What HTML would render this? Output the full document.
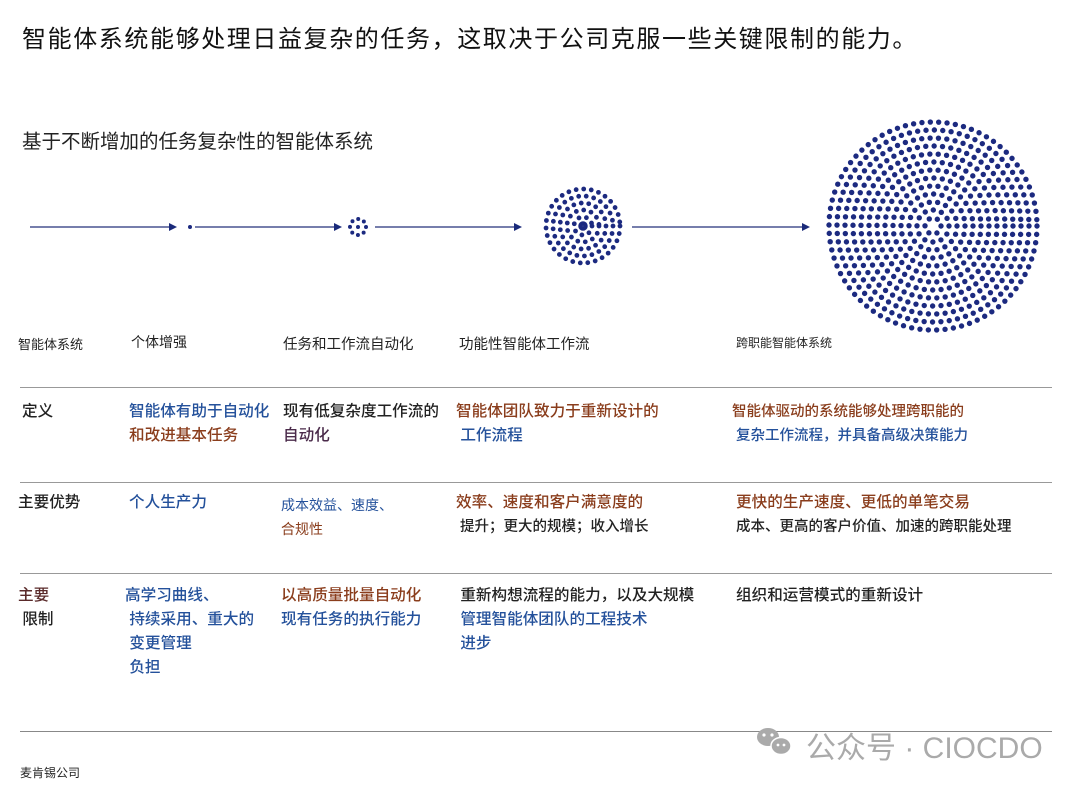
<!DOCTYPE html>
<html><head><meta charset="utf-8"><style>
body{margin:0;width:1080px;height:788px;background:#fff;position:relative;overflow:hidden;font-family:"Liberation Sans","Noto Sans CJK SC",sans-serif;color:#222}
.t{position:absolute;white-space:nowrap}
.b{color:#24519b}.r{color:#8a3d1c}.k{color:#222}
.hr{position:absolute;left:20px;width:1032px;height:1px;background:#999}
.c{font-size:15.6px;line-height:24px;font-weight:500}
</style></head><body>
<div class="t" style="left:22px;top:19px;font-size:24px;color:#111;letter-spacing:1.6px">智能体系统能够处理日益复杂的任务，这取决于公司克服一些关键限制的能力。</div>
<div class="t" style="left:22px;top:125px;font-size:19.5px;color:#222">基于不断增加的任务复杂性的智能体系统</div>
<svg style="position:absolute;left:0;top:0" width="1080" height="340">
<g stroke="#25307a" stroke-width="1.3" fill="#1a2a7a">
<line x1="30" y1="227" x2="170" y2="227"/><polygon points="169,223 177,227 169,231" stroke="none"/>
<line x1="195" y1="227" x2="335" y2="227"/><polygon points="334,223 342,227 334,231" stroke="none"/>
<line x1="375" y1="227" x2="515" y2="227"/><polygon points="514,223 522,227 514,231" stroke="none"/>
<line x1="632" y1="227" x2="803" y2="227"/><polygon points="802,223 810,227 802,231" stroke="none"/>
</g>
<g fill="#1c2a80"><circle cx="190" cy="227" r="2"/><circle cx="358" cy="227" r="2"/></g>
<g fill="none" stroke="#1c2a80" stroke-linecap="round">
<circle cx="358" cy="227" r="8" stroke-width="4" stroke-dasharray="0 6.28"/>
</g>
<g fill="none" stroke="#1c2a80" stroke-linecap="round" stroke-width="4.8">
<circle cx="583" cy="226" r="2.5" stroke-width="4.5"/>
<circle cx="583" cy="226" r="9" stroke-dasharray="0 7.6"/>
<circle cx="583" cy="226" r="16" stroke-dasharray="0 7.6"/>
<circle cx="583" cy="226" r="23" stroke-dasharray="0 7.6"/>
<circle cx="583" cy="226" r="30" stroke-dasharray="0 7.6"/>
<circle cx="583" cy="226" r="37" stroke-dasharray="0 7.6"/>
</g>
<g fill="none" stroke="#1c2a80" stroke-linecap="round" stroke-width="5.4">
<circle cx="933" cy="226" r="8" stroke-dasharray="0 8.4"/>
<circle cx="933" cy="226" r="16" stroke-dasharray="0 8.4"/>
<circle cx="933" cy="226" r="24" stroke-dasharray="0 8.4"/>
<circle cx="933" cy="226" r="32" stroke-dasharray="0 8.4"/>
<circle cx="933" cy="226" r="40" stroke-dasharray="0 8.4"/>
<circle cx="933" cy="226" r="48" stroke-dasharray="0 8.4"/>
<circle cx="933" cy="226" r="56" stroke-dasharray="0 8.4"/>
<circle cx="933" cy="226" r="64" stroke-dasharray="0 8.4"/>
<circle cx="933" cy="226" r="72" stroke-dasharray="0 8.4"/>
<circle cx="933" cy="226" r="80" stroke-dasharray="0 8.4"/>
<circle cx="933" cy="226" r="88" stroke-dasharray="0 8.4"/>
<circle cx="933" cy="226" r="96" stroke-dasharray="0 8.4"/>
<circle cx="933" cy="226" r="104" stroke-dasharray="0 8.4"/>
</g>
</svg>
<div class="t" style="left:18px;top:334px;font-size:13px">智能体系统</div>
<div class="t" style="left:131px;top:332px;font-size:14px">个体增强</div>
<div class="t" style="left:283px;top:333px;font-size:14.5px">任务和工作流自动化</div>
<div class="t" style="left:459px;top:333px;font-size:14.5px">功能性智能体工作流</div>
<div class="t" style="left:736px;top:334px;font-size:12px">跨职能智能体系统</div>
<div class="hr" style="top:387px"></div>
<div class="hr" style="top:482px"></div>
<div class="hr" style="top:573px"></div>
<div class="hr" style="top:731px;background:#888"></div>
<div class="t c" style="left:22px;top:400px">定义</div>
<div class="t c" style="left:129px;top:400px"><span class="b">智能体有助于自动化</span><br><span class="r">和改进基本任务</span></div>
<div class="t c" style="left:283px;top:400px"><span class="k">现有低复杂度工作流的</span><br><span style="color:#4a2a4a">自动化</span></div>
<div class="t c" style="left:456px;top:400px"><span class="r">智能体团队致力于重新设计的</span><br><span class="b">&nbsp;工作流程</span></div>
<div class="t" style="left:732px;top:400px;font-size:14.5px;line-height:24px;font-weight:500"><span class="r">智能体驱动的系统能够处理跨职能的</span><br><span class="b">&nbsp;复杂工作流程，并具备高级决策能力</span></div>
<div class="t c" style="left:18px;top:491px">主要优势</div>
<div class="t c b" style="left:129px;top:491px">个人生产力</div>
<div class="t" style="left:281px;top:493px;font-size:14px;line-height:24px"><span class="b">成本效益、速度、</span><br><span class="r">合规性</span></div>
<div class="t c" style="left:456px;top:491px"><span class="r">效率、速度和客户满意度的</span><br><span class="k" style="font-size:14.5px">&nbsp;提升；更大的规模；收入增长</span></div>
<div class="t c" style="left:736px;top:491px"><span class="r">更快的生产速度、更低的单笔交易</span><br><span class="k" style="font-size:14.5px">成本、更高的客户价值、加速的跨职能处理</span></div>
<div class="t c" style="left:18px;top:584px"><span class="r" style="color:#5a2a2a">主要</span><br>&nbsp;限制</div>
<div class="t c b" style="left:125px;top:584px">高学习曲线、<br>&nbsp;持续采用、重大的<br>&nbsp;变更管理<br>&nbsp;负担</div>
<div class="t c" style="left:281px;top:584px"><span class="r">以高质量批量自动化</span><br><span class="b">现有任务的执行能力</span></div>
<div class="t c" style="left:456px;top:584px"><span class="k">&nbsp;重新构想流程的能力，以及大规模</span><br><span class="b">&nbsp;管理智能体团队的工程技术</span><br><span class="b">&nbsp;进步</span></div>
<div class="t c k" style="left:736px;top:584px">组织和运营模式的重新设计</div>
<div class="t" style="left:20px;top:764px;font-size:12px">麦肯锡公司</div>
<svg style="position:absolute;left:754px;top:725px" width="46" height="36">
<ellipse cx="14" cy="12" rx="11" ry="9" fill="#aaa"/>
<ellipse cx="27" cy="21" rx="10" ry="8.5" fill="#aaa" stroke="#fff" stroke-width="1.5"/>
<circle cx="10" cy="10" r="1.6" fill="#fff"/><circle cx="18" cy="10" r="1.6" fill="#fff"/>
<circle cx="24" cy="20" r="1.4" fill="#fff"/><circle cx="30" cy="20" r="1.4" fill="#fff"/>
</svg>
<div class="t" style="left:806px;top:723px;font-size:30px;color:#aaa">公众号 · CIOCDO</div>
</body></html>
